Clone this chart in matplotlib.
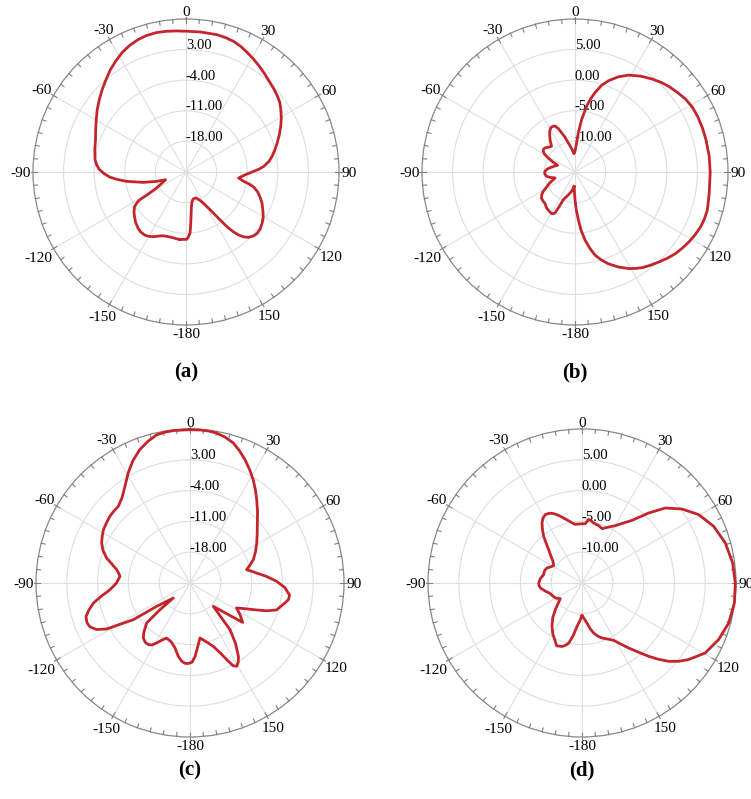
import numpy as np
import matplotlib
matplotlib.use("Agg")
import matplotlib.pyplot as plt

plt.rcParams['font.family'] = ['Liberation Serif', 'DejaVu Serif']

# radiation patterns: angle (deg, clockwise from top) and gain (dB)
angles_a = [-174.9, -171, -167.6, -164, -160.3, -156.5, -153.1, -150, -146.8, -143,
            -139.6, -135, -131, -127.5, -124, -122, -121, -120.3, -118.6, -114.5,
            -110.7, -107.6, -103.6, -98.9, -96.2, -93.8, -91, -88.4, -85.5, -82.2,
            -76, -70.2, -65, -59.6, -55, -49.9, -45, -40.7, -36.5, -32.1,
            -28, -24, -20, -16.2, -12, -7.9, -4, 0, 5.75, 12.7,
            16.5, 20, 23.5, 27, 30.5, 34.4, 38.5, 42.2, 46.3, 50.2,
            53.5, 56.5, 60.3, 64.1, 68.2, 72.3, 76, 79.6, 82.8, 85.8,
            87.8, 89.4, 91, 92.6, 96.5, 99.2, 100.8, 102.6, 105.5, 108.4,
            112.3, 116.3, 120, 124, 127.5, 130.8, 133.5, 136.2, 138.3, 140.1,
            141.8, 143.2, 145.8, 148, 150.8, 154, 157.7, 161, 164.8, 167.5,
            169.6, 171.8, 173.6, 175, 176.2, 178, 179.4]
gain_a = [-9.5, -9.6, -9.7, -9.65, -9.5, -9.0, -8.4, -8.0, -7.75, -7.8,
          -8.1, -8.7, -9.4, -10.0, -10.8, -11.8, -12.6, -15.0, -17.3, -19.0,
          -20.0, -17.9, -14.9, -11.2, -9.2, -7.5, -6.2, -5.2, -4.5, -4.0,
          -3.5, -3.0, -2.2, -1.2, -0.2, 0.9, 2.0, 3.0, 4.1, 5.1,
          6.0, 6.7, 7.2, 7.5, 7.6, 7.5, 7.35, 7.2, 7.2, 7.2,
          7.05, 6.8, 6.35, 5.75, 5.15, 4.5, 3.8, 3.2, 2.7, 2.2,
          1.7, 1.0, 0.1, -0.9, -2.0, -3.1, -4.05, -4.95, -5.9, -7.15,
          -8.3, -9.5, -10.5, -11.4, -12.9, -11.6, -10.3, -9.1, -8.0, -7.2,
          -6.2, -5.4, -4.6, -4.0, -3.6, -3.5, -3.75, -4.3, -5.1, -6.2,
          -7.7, -9.4, -13.1, -15.2, -16.8, -17.8, -18.5, -18.7, -18.6, -18.3,
          -17.7, -16.5, -14.7, -12.8, -11.0, -10.1, -9.6]

angles_b = [-176.4, -173, -170, -163, -157.1, -155.5, -154, -151, -147.6, -142,
            -136, -132, -128, -124.5, -121.4, -114, -106.6, -102, -98.7, -93.5,
            -88.7, -84.5, -80.9, -74, -69, -65.5, -62.3, -59.5, -56.9, -54,
            -51.3, -46.5, -42.3, -38.5, -35, -31.5, -28.6, -26, -23.6, -21,
            -18.9, -16, -13, -8, -3, 0, 2.2, 4.9, 7.3, 10.1,
            12.2, 14.2, 17, 20.2, 24.5, 29, 34.5, 39.7, 43.8, 47.7,
            52.3, 56.7, 61, 65.4, 70.7, 76, 83.3, 90, 99, 106,
            110, 113.5, 117.5, 121.5, 125.3, 129, 133, 137, 141, 144.9,
            147.9, 150.9, 155.5, 160.1, 163.3, 166.4, 169, 171.6, 174, 176,
            178, 180]
gain_b = [-12.6, -12.2, -11.8, -11.0, -10.1, -8.8, -7.5, -7.2, -7.3, -7.5,
          -7.9, -7.95, -8.05, -8.4, -8.9, -10.4, -11.6, -10.8, -10.3, -10.05,
          -10.07, -10.4, -10.8, -11.5, -11.95, -11.0, -10.0, -9.2, -8.8, -8.65,
          -8.7, -9.1, -9.3, -8.5, -7.8, -7.1, -6.75, -6.7, -6.8, -7.4,
          -8.2, -9.1, -10.1, -11.2, -12.0, -11.6, -10.8, -8.56, -6.3, -4.0,
          -2.7, -1.6, -0.2, 0.9, 2.1, 3.1, 4.0, 4.74, 5.3, 5.76,
          6.2, 6.65, 6.9, 7.0, 7.03, 7.04, 7.08, 7.09, 7.2, 7.5,
          7.5, 7.4, 7.15, 6.85, 6.5, 6.16, 5.65, 5.1, 4.6, 4.1,
          3.6, 3.06, 2.05, 0.95, 0.0, -1.0, -2.3, -3.76, -5.4, -7.14,
          -8.8, -10.45]

angles_c = [0, 4, 7, 10, 13.5, 17.2, 20.5, 24, 27.8, 31.5,
            35, 38.7, 43.5, 48.3, 53.5, 59, 64.5, 69.8, 73.5, 76.8,
            78.8, 81.5, 85, 88.9, 92.8, 97, 99.5, 101.9, 104.5, 107.3,
            110, 112.8, 115.5, 118.2, 122.5, 126.8, 129.9, 135, 137.9, 139.4,
            143, 146.6, 148.7, 150.75, 152.5, 154.4, 156.5, 159.8, 164, 169.7,
            172.5, 176, 178.5, 181.2, 183.5, 186, 189, 193, 198, 203,
            206, 209.1, 211.5, 214, 217, 220.3, 223, 227.3, 228.4, 228,
            235, 237.1, 241.1, 243.5, 246.3, 249, 252.2, 255, 258.3, 261.5,
            265.2, 270, 275.4, 277.5, 280.3, 283.5, 286.7, 290.5, 294.4, 298,
            301.6, 305.8, 309.8, 313.5, 316.9, 321.5, 326.1, 330.7, 335, 339.4,
            343.5, 347.3, 350.5, 353.8]
gain_c = [9.85, 9.85, 9.8, 9.6, 9.1, 8.3, 7.1, 5.7, 4.1, 2.5,
          0.9, -0.75, -2.7, -4.5, -6.0, -7.3, -8.5, -9.66, -10.8, -11.8,
          -10.9, -9.7, -7.6, -5.3, -3.4, -2.2, -2.3, -2.95, -3.7, -4.4,
          -6.5, -9.4, -11.5, -13.0, -11.5, -10.05, -14.1, -17.5, -14.3, -11.0,
          -7.8, -5.0, -3.9, -3.3, -3.8, -5.7, -7.6, -9.66, -11.0, -12.3,
          -10.8, -8.3, -7.0, -6.7, -6.7, -7.1, -8.1, -9.85, -11.0, -11.4,
          -10.6, -9.4, -8.5, -8.1, -8.1, -8.6, -9.6, -11.6, -15.9, -19.9,
          -15.75, -9.66, -3.4, -1.3, -0.17, 0.1, -0.18, -1.2, -2.6, -4.6,
          -6.75, -8.3, -9.0, -8.7, -8.06, -6.8, -5.2, -3.9, -2.95, -2.4,
          -1.9, -1.6, -1.3, -1.2, -1.15, -0.2, 1.5, 3.7, 5.7, 7.4,
          8.6, 9.5, 9.75, 9.85]

angles_d = [-180, -176.5, -173.4, -170.5, -167.5, -165, -162.5, -158, -155.4, -150,
            -145.3, -140, -135, -130.5, -125.9, -120, -114, -108.6, -102.5, -96.8,
            -93, -90, -84, -77.7, -72, -66.8, -62.5, -58.5, -53.2, -49,
            -45, -42, -39.4, -36.5, -33.7, -31, -28.2, -25, -22.2, -19,
            -15.8, -12, -7, -2, 3.2, 6.1, 8.5, 11, 16.2, 20.3,
            25, 30.2, 34.5, 38.6, 43.6, 48, 53.5, 59.6, 66.7, 74.4,
            82.4, 90, 97.5, 105.3, 112.5, 119.6, 125.7, 129, 132.1, 135,
            137.7, 141, 144.3, 147.7, 151.1, 155.5, 160, 163.5, 166.9, 170,
            172.9, 176, 178.9]
gain_d = [-9.7, -8.8, -7.9, -6.3, -5.0, -4.5, -4.2, -4.0, -4.59, -5.5,
          -6.45, -7.6, -8.88, -9.9, -10.66, -10.1, -9.8, -9.58, -8.9, -8.2,
          -8.0, -7.97, -8.2, -8.63, -8.6, -8.8, -9.3, -9.6, -9.12, -8.3,
          -7.35, -6.3, -5.2, -4.2, -3.3, -2.7, -2.4, -2.5, -2.84, -3.4,
          -4.04, -4.7, -5.4, -5.4, -5.35, -4.6, -4.8, -5.08, -5.3, -5.6,
          -5.0, -4.23, -3.2, -1.99, 0.69, 3.2, 5.19, 6.95, 8.27, 9.16,
          9.67, 9.89, 9.95, 9.68, 9.0, 8.0, 6.3, 5.2, 3.97, 2.5,
          1.09, -0.6, -2.0, -3.3, -4.37, -5.0, -5.5, -6.0, -6.67, -7.5,
          -8.45, -9.1, -9.6]

rings_ac = [-18, -11, -4, 3]
rings_bd = [-10, -5, 0, 5]
theta_deg = [0, 30, 60, 90, 120, 150, 180, 210, 240, 270, 300, 330]
theta_labels = ['0', '30', '60', '90', '120', '150', '-180', '-150', '-120', '-90', '-60', '-30']

W, H = 751, 799
fig = plt.figure(figsize=(W / 100, H / 100), dpi=100)

panels = [
    # label, data, rings, rmin, centre x/y and radius in pixels, caption y
    ('(a)', angles_a, gain_a, rings_ac, -25, 186, 172, 153, 372),
    ('(b)', angles_b, gain_b, rings_bd, -15, 575, 172, 153, 372),
    ('(c)', angles_c, gain_c, rings_ac, -25, 190, 583, 154, 770),
    ('(d)', angles_d, gain_d, rings_bd, -15, 582, 583, 154, 770),
]

for label, ang, gain, rings, rmin, cx, cy, R, ly in panels:
    ax = fig.add_axes([(cx - R) / W, 1 - (cy + R) / H, 2 * R / W, 2 * R / H],
                      projection='polar')
    ax.set_theta_zero_location('N')
    ax.set_theta_direction(-1)
    rmax = 10
    ax.set_ylim(rmin, rmax)
    per_px = (rmax - rmin) / R

    # close the curve
    th = np.radians(list(ang) + [ang[0] + 360])
    g = list(gain) + [gain[0]]
    ax.plot(th, g, color='#c3252d', lw=2.0, zorder=4, clip_on=False,
            solid_joinstyle='round')

    # spokes only; angle labels are placed by hand just outside the rim
    ax.set_xticks(np.radians(theta_deg))
    ax.set_xticklabels([])
    ax.tick_params(axis='x', which='major', length=0)
    for deg, txt in zip(theta_deg, theta_labels):
        s, c = np.sin(np.radians(deg)), np.cos(np.radians(deg))
        w = 7.6 * sum(ch.isdigit() for ch in txt) + 5.1 * txt.count('-')
        d = 2.5 + abs(s) * w / 2 + abs(c) * 5
        ax.annotate(txt, xy=(np.radians(deg), rmax), xytext=(s * d, c * d),
                    textcoords='offset pixels', ha='center', va='center_baseline',
                    fontsize=11, annotation_clip=False)

    # tick marks round the rim: 5 deg minor, 30 deg major
    for deg in range(0, 360, 5):
        t = np.radians(deg)
        if deg % 30 == 0:
            r0, r1 = rmax - 4 * per_px, rmax + 2.5 * per_px
        else:
            r0, r1 = rmax - 4 * per_px, rmax
        ax.plot([t, t], [r0, r1], color='#808080', lw=0.8, clip_on=False, zorder=3)

    ax.set_yticks(rings)
    ax.set_yticklabels([])
    ax.grid(True, color='#dedede', lw=0.8)
    ax.spines['polar'].set_color('#888888')
    ax.spines['polar'].set_linewidth(0.9)

    for r in rings:
        ax.annotate('%.2f' % r, xy=(0, r), xytext=(0, 3), textcoords='offset points',
                    ha='left', va='center', fontsize=10.5, zorder=2)

    fig.text(cx / W, 1 - ly / H, label, ha='center', va='center',
             fontsize=15, fontweight='bold')

fig.savefig('out.png', dpi=100)
